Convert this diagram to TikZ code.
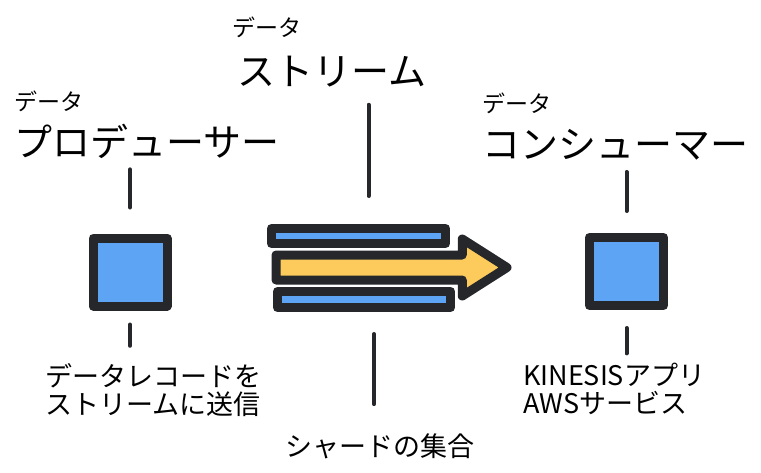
\documentclass[tikz,border=0pt]{standalone}
\usepackage{fontspec}
\newfontfamily\jpfont{Noto Sans CJK JP}
\usetikzlibrary{shapes.arrows, positioning}
\definecolor{ink}{HTML}{25272B}
\definecolor{boxblue}{HTML}{5DA5F4}
\definecolor{arrowyellow}{HTML}{FCCB5B}
\tikzset{
  box/.style = {draw=ink, fill=boxblue, line width=9pt, line join=round,
    minimum width=74pt, minimum height=68pt, inner sep=0pt},
  shard/.style = {draw=ink, fill=boxblue, line width=9pt, line join=round,
    inner sep=0pt, minimum height=15pt},
  stem/.style = {draw=ink, line width=4pt, line cap=round},
  headtext/.style = {font=\jpfont\fontsize{38}{40}\selectfont, inner sep=0pt, anchor=base west},
  subtext/.style = {font=\jpfont\fontsize{23}{24}\selectfont, inner sep=0pt, anchor=base west},
  notetext/.style = {font=\jpfont\fontsize{27}{28}\selectfont, inner sep=0pt, anchor=base west, align=left}
}

\begin{document}
\begin{tikzpicture}[x=1pt, y=-1pt]

    \useasboundingbox (0,0) rectangle (761,472);

    %% Producer

    % Titles
    \node[subtext] (prodsub) at (14,110) {データ};
    \node[headtext] (prodhead) at (14,156) {プロデューサー};

    % Box and note
    \node[box] (prodbox) at (130,272) {};
    \node[notetext] (prodnote) at (45,414) {データレコードを\\ストリームに送信};

    % Stems
    \draw[stem, shorten <=11pt, shorten >=26pt] (prodhead.south -| prodbox.north) -- (prodbox.north);
    \draw[stem, shorten <=14pt, shorten >=17pt] (prodbox.south) -- (prodnote.north -| prodbox.south);

    %% Stream

    % Titles
    \node[subtext] (streamsub) at (232,36) {データ};
    \node[headtext] (streamhead) at (237,85) {ストリーム};

    % Shards
    \node[shard, minimum width=174pt] (topshard) at (358.5,236) {};
    \node[single arrow, draw=ink, fill=arrowyellow, line width=9pt, line join=round,
      inner sep=8pt, minimum height=231pt, single arrow head extend=16pt,
      single arrow tip angle=65, anchor=tail] (midshard) at (271.5,267.5) {};
    \node[shard, minimum width=173pt, minimum height=16pt] (lowshard) at (364,299.5) {};
    \node[notetext, anchor=base] (shardnote) at (380,456) {シャードの集合};

    % Stems
    \draw[stem, shorten <=18pt, shorten >=28pt]
      ([xshift=10pt]topshard.north |- streamhead.south) -- ([xshift=10pt]topshard.north);
    \draw[stem, shorten <=22pt, shorten >=29pt]
      ([xshift=10pt]lowshard.south) -- ([xshift=10pt]lowshard.south |- shardnote.north);

    %% Consumer

    % Titles
    \node[subtext] (conssub) at (482,112) {データ};
    \node[headtext] (conshead) at (482,158) {コンシューマー};

    % Box and note
    \node[box] (consbox) at (626.5,271.5) {};
    \node[notetext] (consnote) at (523,413) {KINESISアプリ\\AWSサービス};

    % Stems
    \draw[stem, shorten <=12pt, shorten >=22pt] (conshead.south -| consbox.north) -- (consbox.north);
    \draw[stem, shorten <=18pt, shorten >=9pt] (consbox.south) -- (consnote.north -| consbox.south);

\end{tikzpicture}
\end{document}
